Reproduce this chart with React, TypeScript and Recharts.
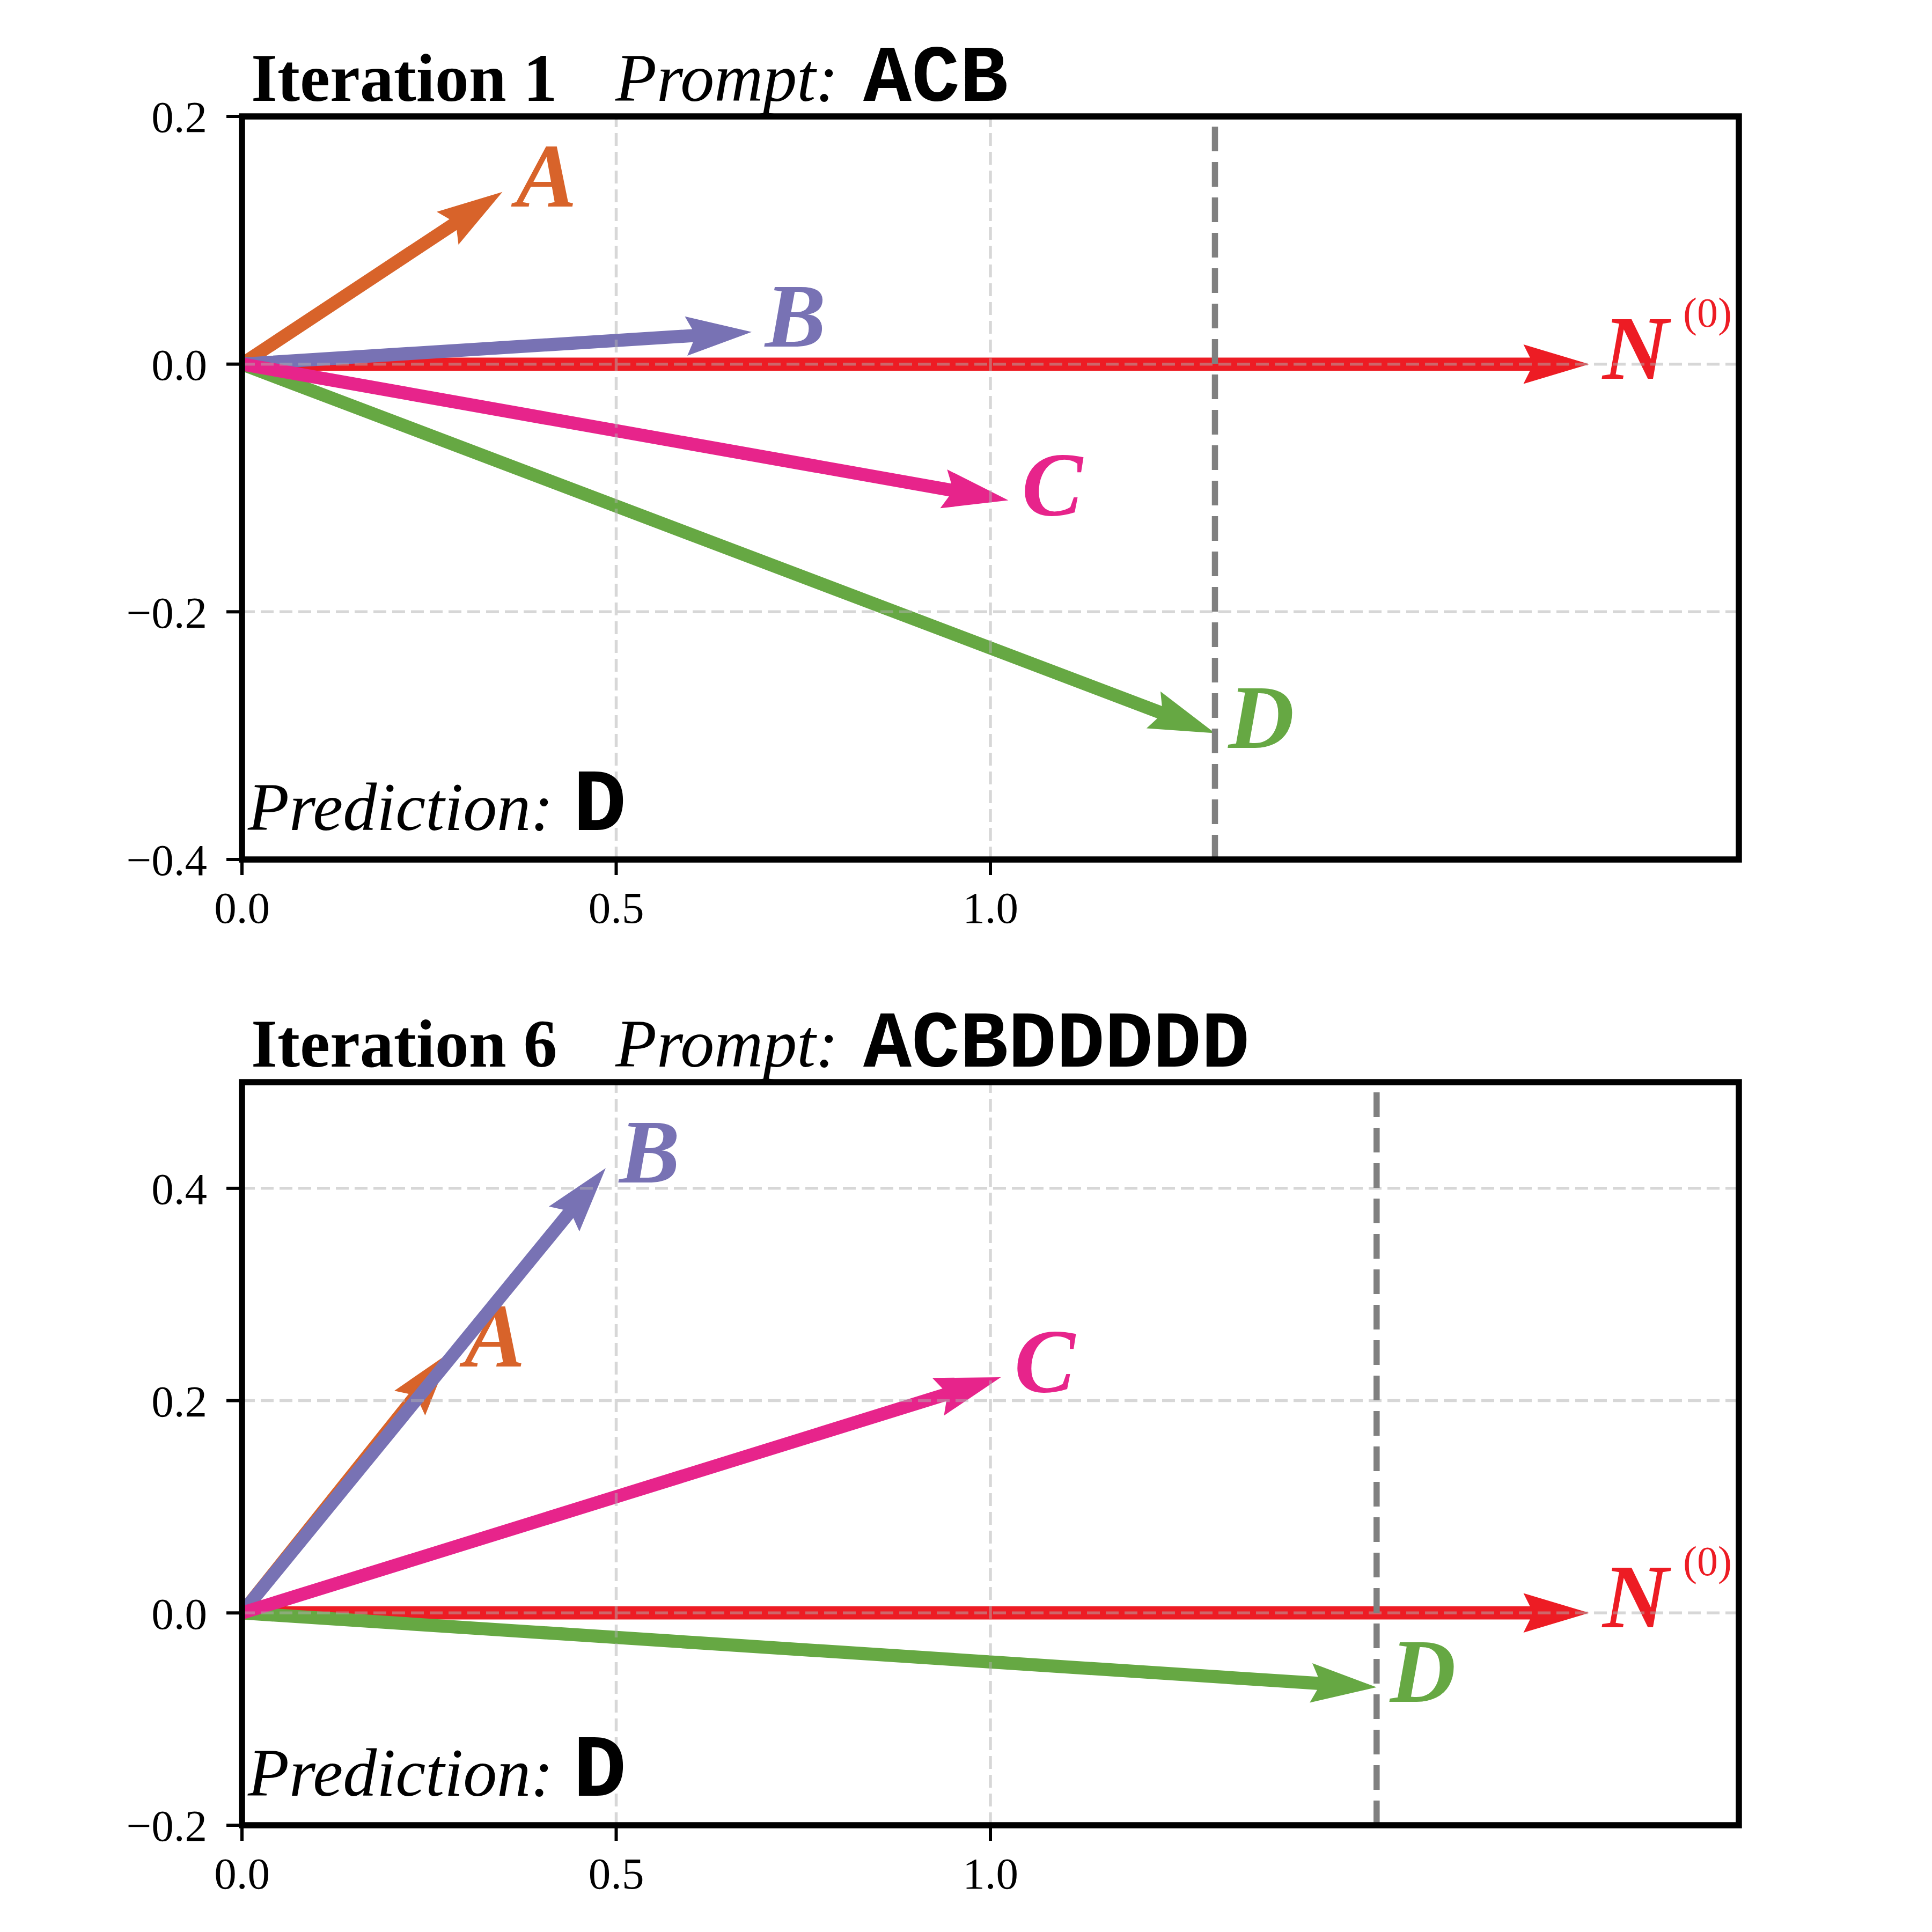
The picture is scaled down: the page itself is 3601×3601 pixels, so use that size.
import React from "react"
import { LineChart, Line, XAxis, YAxis, ReferenceLine, ReferenceArea } from "recharts"

const SERIF = "'Liberation Serif', 'Times New Roman', serif"
const MONO = "'Liberation Mono', 'Courier New', monospace"

// vector tips (all vectors start at the origin)
const vectorNames = ["A", "B", "C", "D", "N"]
const iter1X = [0.348, 0.681, 1.024, 1.3, 1.8]
const iter1Y = [0.139, 0.026, -0.11, -0.298, 0.0]
const iter6X = [0.279, 0.486, 1.014, 1.516, 1.8]
const iter6Y = [0.246, 0.419, 0.222, -0.07, 0.0]

const iter1YTicks = [-0.4, -0.2, 0, 0.2]
const iter6YTicks = [-0.2, 0, 0.2, 0.4]
const xTicks = [0, 0.5, 1.0]

const COLORS: Record<string, string> = {
  A: "#d8632a",
  B: "#7872b4",
  C: "#e7248b",
  D: "#66a843",
  N: "#ed1c24",
}

// drawing order, back to front
const DRAW_ORDER = ["N", "A", "B", "D", "C"]

const SHAFT = 24.5

const fmt = (v: number) => v.toFixed(1).replace("-", "\u2212")

function arrowDot(name: string) {
  let origin: { x: number; y: number } | null = null
  return (props: any) => {
    const { cx, cy, index, points } = props
    if (index === 0) {
      origin = { x: cx, y: cy }
      return <g key={`o-${name}`} />
    }
    const start = points && points[0] ? points[0] : origin
    if (!start) return <g key={`t-${name}`} />
    const dx = cx - start.x
    const dy = cy - start.y
    const L = Math.sqrt(dx * dx + dy * dy)
    const ux = dx / L
    const uy = dy / L
    const nx = -uy
    const ny = ux
    const w = SHAFT
    const pt = (a: number, b: number) => `${start.x + ux * a + nx * b},${start.y + uy * a + ny * b}`
    const poly = [
      pt(0, w / 2),
      pt(L - 4.5 * w, w / 2),
      pt(L - 5 * w, 1.5 * w),
      pt(L, 0),
      pt(L - 5 * w, -1.5 * w),
      pt(L - 4.5 * w, -w / 2),
      pt(0, -w / 2),
    ].join(" ")
    const tx = cx + 25
    const ty = cy + 27
    const color = COLORS[name]
    return (
      <g key={`t-${name}`}>
        <polygon points={poly} fill={color} />
        <text x={tx} y={ty} fill={color} fontFamily={SERIF} fontWeight="bold" fontStyle="italic" fontSize={170}>
          {name}
          {name === "N" && (
            <tspan x={tx + 150} dy={-97} fontWeight="normal" fontStyle="normal" fontSize={78}>
              (0)
            </tspan>
          )}
        </text>
      </g>
    )
  }
}

function VectorPanel({ xs, ys, yTicks }: { xs: number[]; ys: number[]; yTicks: number[] }) {
  const yDomain = [yTicks[0], yTicks[0] === -0.4 ? 0.2 : 0.5]
  const predIdx = vectorNames.indexOf("D")
  const innerY = yTicks.filter((t) => t > yDomain[0] && t < yDomain[1])
  const innerX = xTicks.filter((t) => t > 0 && t < 2)
  return (
    <LineChart width={3601} height={1800} margin={{ top: 217, right: 360, bottom: 0, left: 0 }}>
      <XAxis
        type="number"
        dataKey="x"
        domain={[0, 2]}
        ticks={xTicks}
        interval={0}
        allowDataOverflow
        height={198}
        axisLine={false}
        tickSize={29}
        tickMargin={30}
        tickLine={{ stroke: "#000", strokeWidth: 6 }}
        tick={{ fontSize: 83, fill: "#000", fontFamily: SERIF }}
        tickFormatter={fmt}
      />
      <YAxis
        type="number"
        dataKey="y"
        domain={yDomain}
        ticks={yTicks}
        interval={0}
        allowDataOverflow
        width={451}
        axisLine={false}
        tickSize={29}
        tickMargin={36}
        tickLine={{ stroke: "#000", strokeWidth: 6 }}
        tick={{ fontSize: 83, fill: "#000", fontFamily: SERIF }}
        tickFormatter={fmt}
      />
      {DRAW_ORDER.map((name) => {
        const i = vectorNames.indexOf(name)
        return (
          <Line
            key={name}
            data={[
              { x: 0, y: 0 },
              { x: xs[i], y: ys[i] },
            ]}
            dataKey="y"
            stroke="none"
            dot={arrowDot(name)}
            activeDot={false}
            isAnimationActive={false}
          />
        )
      })}
      {/* grid sits on top of the arrows, as in the original */}
      {innerY.map((t) => (
        <ReferenceLine
          key={`gy-${t}`}
          y={t}
          zIndex={900}
          stroke="#b0b0b0"
          strokeOpacity={0.5}
          strokeWidth={5.5}
          strokeDasharray="24 11"
        />
      ))}
      {innerX.map((t) => (
        <ReferenceLine
          key={`gx-${t}`}
          x={t}
          zIndex={900}
          stroke="#b0b0b0"
          strokeOpacity={0.5}
          strokeWidth={5.5}
          strokeDasharray="24 11"
        />
      ))}
      <ReferenceLine x={xs[predIdx]} zIndex={950} stroke="#808080" strokeWidth={11.5} strokeDasharray="46 20" />
      <ReferenceArea
        x1={0}
        x2={2}
        y1={yDomain[0]}
        y2={yDomain[1]}
        zIndex={1000}
        fill="none"
        fillOpacity={0}
        stroke="#000"
        strokeWidth={11.5}
      />
    </LineChart>
  )
}

function Titles() {
  const rows = [
    { top: 0, iter: "Iteration 1", prompt: "ACB" },
    { top: 1800, iter: "Iteration 6", prompt: "ACBDDDDD" },
  ]
  return (
    <svg width={3601} height={3601} style={{ position: "absolute", left: 0, top: 0, pointerEvents: "none" }}>
      {rows.map((r) => (
        <g key={r.iter}>
          <text x={468} y={r.top + 188} fontFamily={SERIF} fontWeight="bold" fontSize={126} fill="#000">
            {r.iter}
          </text>
          <text x={1147} y={r.top + 188} fontFamily={SERIF} fontStyle="italic" fontSize={126} fill="#000">
            Prompt:
          </text>
          <text x={1609} y={r.top + 188} fontFamily={MONO} fontWeight="bold" fontSize={150} fill="#000">
            {r.prompt}
          </text>
          <text x={462} y={r.top + 1547} fontFamily={SERIF} fontStyle="italic" fontSize={126} fill="#000">
            Prediction:
          </text>
          <text x={1068} y={r.top + 1547} fontFamily={MONO} fontWeight="bold" fontSize={166} fill="#000">
            D
          </text>
        </g>
      ))}
    </svg>
  )
}

export default function App() {
  return (
    <div style={{ position: "absolute", left: 0, top: 0, width: 3601, height: 3601, background: "#fff" }}>
      <VectorPanel xs={iter1X} ys={iter1Y} yTicks={iter1YTicks} />
      <VectorPanel xs={iter6X} ys={iter6Y} yTicks={iter6YTicks} />
      <Titles />
    </div>
  )
}
